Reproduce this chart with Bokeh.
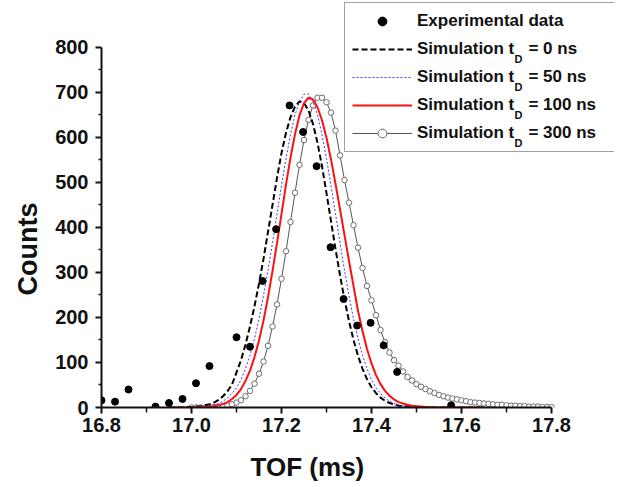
import math
from bokeh.plotting import figure
from bokeh.models import Range1d, FixedTicker, NumeralTickFormatter, Legend, LegendItem, Label
from bokeh.embed import file_html
from bokeh.resources import INLINE

# ---------------- data ----------------
exp_x = [16.80, 16.83, 16.86, 16.92, 16.95, 16.98, 17.01, 17.04, 17.10, 17.13, 17.158,
         17.188, 17.218, 17.248, 17.278, 17.309, 17.338, 17.368, 17.398, 17.427, 17.457, 17.577]
exp_y = [16, 13, 40, 2, 10, 19, 54, 92, 156, 135, 281,
         396, 671, 612, 536, 356, 241, 182, 188, 138, 79, 5]

sim_start = 16.95   # first TOF bin of the 0/50/100 ns simulations
sim_step = 0.01
sim0_y = [0, 0, 0, 0, 1,
          1, 2, 3, 5, 7, 11, 17, 25, 36, 51,
          78, 105, 140, 180, 225, 275, 330, 390, 450, 510,
          565, 610, 645, 668, 680, 676, 660, 630, 588, 536,
          476, 414, 352, 294, 240, 192, 150, 115, 86, 63,
          45, 32, 22, 15, 10, 7, 4, 3, 2, 1,
          1, 0, 0, 0, 0, 0, 0, 0, 0, 0, 0, 0, 0, 0, 0, 0]
sim50_y = [0, 0, 0, 0, 0,
           0, 1, 1, 2, 3, 6, 9, 14, 21, 31,
           44, 62, 86, 116, 153, 197, 248, 305, 366, 430,
           493, 553, 606, 650, 680, 696, 696, 680, 650, 606,
           553, 493, 430, 366, 305, 248, 197, 153, 116, 86,
           62, 44, 31, 21, 14, 9, 6, 4, 3, 2,
           1, 0, 0, 0, 0, 0, 0, 0, 0, 0, 0, 0, 0, 0, 0, 0]
sim100_y = [0, 0, 0, 0, 0,
            0, 0, 1, 1, 2, 3, 5, 8, 12, 19,
            28, 41, 59, 82, 112, 149, 193, 245, 303, 365,
            430, 495, 555, 607, 649, 676, 688, 684, 667, 638,
            599, 551, 497, 440, 383, 326, 270, 215, 170, 130,
            98, 72, 52, 37, 26, 18, 12, 9, 6, 4,
            3, 2, 1, 1, 0, 0, 0, 0, 0, 0, 0, 0, 0, 0, 0, 0]

sim300_start = 17.00
sim300_y = [0, 0, 0, 0, 0, 1, 1, 2, 4, 7,
            11, 16, 25, 37, 53, 75, 102, 137, 180, 229,
            286, 347, 412, 477, 539, 594, 639, 671, 688, 688,
            678, 655, 615, 560, 505, 455, 405, 355, 310, 270,
            238, 205, 172, 145, 122, 105, 93, 80, 68, 60,
            52, 46, 41, 36, 32, 28, 25, 22, 20, 18,
            16, 14, 12, 11, 10, 9, 8, 7, 6, 6,
            5, 4, 4, 3, 3, 2, 2, 2, 1, 1, 1]

x_ticks = [16.8, 17.0, 17.2, 17.4, 17.6, 17.8]
x_minor = [16.9, 17.1, 17.3, 17.5, 17.7]
y_ticks = [0, 100, 200, 300, 400, 500, 600, 700, 800]
y_minor = [50, 150, 250, 350, 450, 550, 650, 750]

x_title = "TOF (ms)"
y_title = "Counts"
legend_labels = ["Experimental data",
                 "Simulation t\u00a0\u00a0\u00a0= 0 ns",
                 "Simulation t\u00a0\u00a0\u00a0= 50 ns",
                 "Simulation t\u00a0\u00a0\u00a0= 100 ns",
                 "Simulation t\u00a0\u00a0\u00a0= 300 ns"]


def bins(start, n):
    return [round(start + sim_step * i, 3) for i in range(n)]


sim_x0 = bins(sim_start, len(sim0_y))
sim_x50 = bins(sim_start, len(sim50_y))
sim_x100 = bins(sim_start, len(sim100_y))
sim_x300 = bins(sim300_start, len(sim300_y))

FONT = "Liberation Sans"
NB = "\u00a0"

p = figure(width=614, height=484, output_backend="svg", toolbar_location=None,
           x_range=Range1d(16.8, 17.94), y_range=Range1d(0, 904),
           min_border_left=101, min_border_right=0, min_border_top=0, min_border_bottom=76)
p.outline_line_color = None
p.grid.visible = False
p.background_fill_color = "white"

r300l = p.line(sim_x300, sim300_y, line_color="#555555", line_width=1)
r300m = p.scatter(sim_x300, sim300_y, marker="circle", size=5.5, line_color="#6e6e6e",
                  fill_color="white", line_width=1)
r0 = p.line(sim_x0, sim0_y, line_color="black", line_width=2, line_dash="6 3")
r50 = p.line(sim_x50, sim50_y, line_color="#3a3aff", line_width=1, line_dash="2 2")
r100 = p.line(sim_x100, sim100_y, line_color="#ff1010", line_width=2)
rexp = p.scatter(exp_x, exp_y, marker="circle", size=7, color="black")

for ax in (p.xaxis[0], p.yaxis[0]):
    ax.axis_line_width = 2
    ax.axis_line_color = "#111111"
    ax.major_tick_line_width = 2
    ax.minor_tick_line_width = 1.5
    ax.major_tick_line_color = "#111111"
    ax.minor_tick_line_color = "#111111"
    ax.major_tick_in = 0
    ax.major_tick_out = 6
    ax.minor_tick_in = 0
    ax.major_label_text_font = FONT
    ax.major_label_text_font_style = "bold"
    ax.major_label_text_font_size = "20px"
    ax.major_label_text_color = "#111111"
    ax.axis_label_text_font = FONT
    ax.axis_label_text_font_style = "bold"
    ax.axis_label_text_color = "#111111"

xa = p.xaxis[0]
xa.bounds = (16.8, 17.8)
xa.ticker = FixedTicker(ticks=x_ticks, minor_ticks=x_minor)
xa.formatter = NumeralTickFormatter(format="0.0")
xa.minor_tick_out = 5
xa.major_label_standoff = 4
xa.axis_label = x_title + NB * 14
xa.axis_label_text_font_size = "26px"
xa.axis_label_standoff = 17

ya = p.yaxis[0]
ya.bounds = (0, 800)
ya.ticker = FixedTicker(ticks=y_ticks, minor_ticks=y_minor)
ya.minor_tick_out = 3
ya.major_label_standoff = 7
ya.axis_label = y_title + NB * 12
ya.axis_label_text_font_size = "27px"
ya.axis_label_standoff = 9

legend = Legend(items=[
    LegendItem(label=legend_labels[0], renderers=[rexp]),
    LegendItem(label=legend_labels[1], renderers=[r0]),
    LegendItem(label=legend_labels[2], renderers=[r50]),
    LegendItem(label=legend_labels[3], renderers=[r100]),
    LegendItem(label=legend_labels[4], renderers=[r300l, r300m]),
], location=(243, 255), orientation="vertical", margin=0, padding=7, spacing=6,
    glyph_width=60, glyph_height=22, label_height=22, label_width=232, label_standoff=5,
    label_text_font=FONT, label_text_font_style="bold", label_text_font_size="17px",
    label_text_color="#111111",
    border_line_color="#444444", border_line_width=1,
    background_fill_color="white", background_fill_alpha=0.0)
p.add_layout(legend, "center")

# subscript "D" of t_D in the legend labels
for yy in (349, 321, 293, 265):
    p.add_layout(Label(x=413, y=yy, x_units="screen", y_units="screen", text="D",
                       text_font=FONT, text_font_style="bold", text_font_size="11px",
                       text_color="#111111", text_align="left", text_baseline="middle"))

open("out.html", "w").write(file_html(p, INLINE))
